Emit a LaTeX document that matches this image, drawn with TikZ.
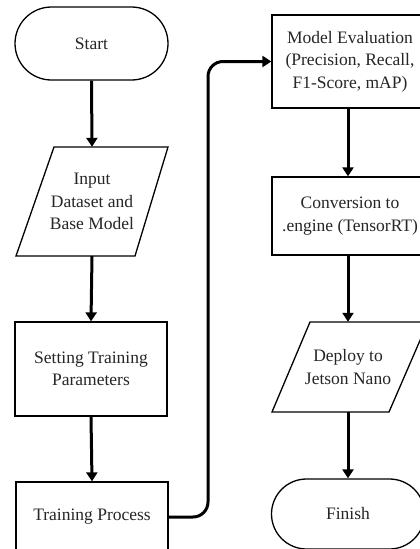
\documentclass[tikz,border=0pt]{standalone}
\usepackage{fontspec}
\setmainfont{Liberation Serif}
\usetikzlibrary{arrows.meta,shapes.misc}
\begin{document}
\begin{tikzpicture}[x=1pt,y=-1pt,
  txt/.style={font=\fontsize{17.5}{22.5}\selectfont, align=center, text=black!85, inner sep=0pt},
  procbox/.style={txt, draw, line width=1.3pt, minimum width=152pt},
  termbox/.style={txt, draw, line width=1.3pt, rounded rectangle, minimum width=153pt},
  iobox/.style={txt, minimum width=120pt},
  ioshape/.style={draw, line width=1.3pt, line join=miter},
  conn/.style={line width=3pt, -{Triangle[width=11pt,length=9pt]}}
]
\useasboundingbox (0,0) rectangle (420,549);
\fill[white] (0,0) rectangle (420,549);

% left column
\node[termbox, minimum height=73pt] (start) at (91.5,43.5) {Start};
\node[iobox, minimum height=109pt] (input) at (92,201.5) {Input\\Dataset and\\Base Model};
\draw[ioshape] (54,147) -- (168,147) -- (135,256) -- (16,256) -- cycle;
\node[procbox, minimum height=94pt] (setting) at (91,369) {Setting Training\\Parameters};
\node[procbox, minimum height=70pt] (train) at (92,517) {Training Process};

% right column
\node[procbox, minimum height=93pt, minimum width=156pt] (eval) at (350,61.5) {Model Evaluation\\(Precision, Recall,\\F1-Score, mAP)};
\node[procbox, minimum height=78pt, minimum width=156pt] (conv) at (350,216) {Conversion to\\.engine (TensorRT)};
\node[iobox, minimum height=90pt] (deploy) at (348,367) {Deploy to\\Jetson Nano};
\draw[ioshape] (310,322) -- (428,322) -- (389,412) -- (272,412) -- cycle;
\node[termbox, minimum height=70pt] (finish) at (348,514) {Finish};

% connectors
\draw[conn] (start.south) -- (input.north);
\draw[conn] (input.south) -- (setting.north);
\draw[conn] (setting.south) -- (train.north);
\draw[conn, rounded corners=15pt] (train.east) -- (208,517) |- (eval.west);
\draw[conn] (eval.south -| deploy.north) -- (conv.north -| deploy.north);
\draw[conn] (conv.south -| deploy.north) -- (deploy.north);
\draw[conn] (deploy.south) -- (finish.north);
\end{tikzpicture}
\end{document}
